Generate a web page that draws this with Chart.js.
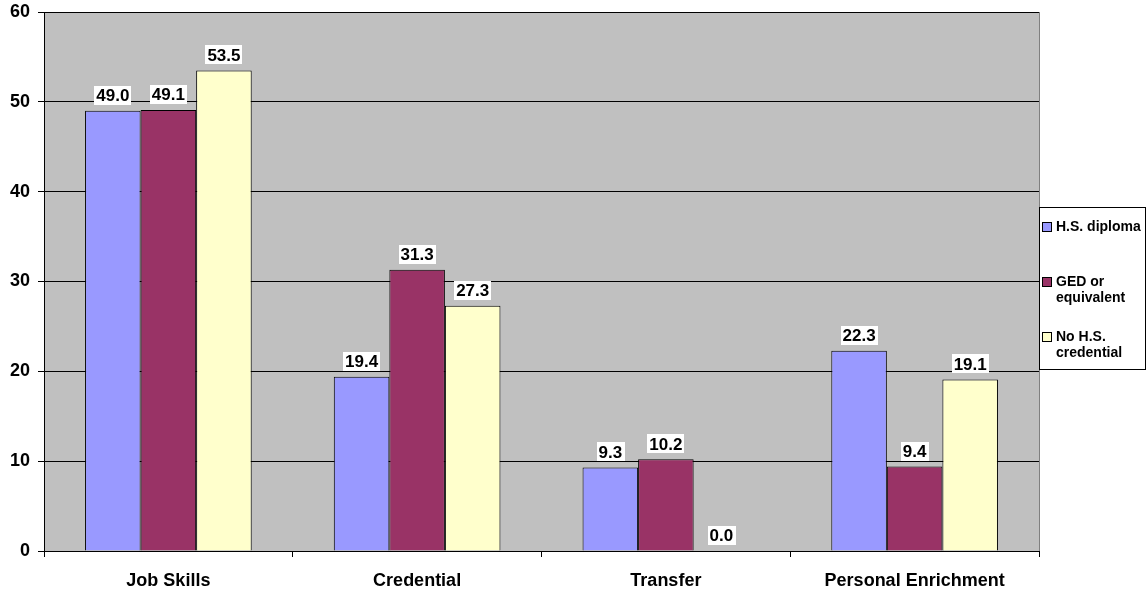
<!DOCTYPE html>
<html>
<head>
<meta charset="utf-8">
<script src="https://cdn.jsdelivr.net/npm/chart.js@4.4.1/dist/chart.umd.min.js"></script>
<style>
  html, body { margin: 0; padding: 0; background: #fff; }
  #wrap { width: 1147px; height: 591px; position: relative; }
</style>
</head>
<body>
<div id="wrap"><canvas id="reasonsChart"></canvas></div>
<script>
// categories and series
const categories = ['Job Skills', 'Credential', 'Transfer', 'Personal Enrichment'];
const hsDiploma = [49.0, 19.4, 9.3, 22.3];
const gedEquivalent = [49.1, 31.3, 10.2, 9.4];
const noCredential = [53.5, 27.3, 0.0, 19.1];
const yTicks = [0, 10, 20, 30, 40, 50, 60];

const seriesNames = [['H.S. diploma'], ['GED or', 'equivalent'], ['No H.S.', 'credential']];
const seriesColors = ['#9999FF', '#993366', '#FFFFCC'];

const FONT = 'Arial, "Liberation Sans", sans-serif';

// grey plot background + right edge
const plotBackground = {
    id: 'plotBackground',
    beforeDraw(chart) {
        const { ctx, chartArea: a } = chart;
        ctx.save();
        ctx.fillStyle = '#C0C0C0';
        ctx.fillRect(a.left, a.top, a.right - a.left, a.bottom - a.top);
        ctx.strokeStyle = '#808080';
        ctx.lineWidth = 1;
        ctx.beginPath();
        ctx.moveTo(a.right + 0.5, a.top);
        ctx.lineTo(a.right + 0.5, a.bottom + 6);
        ctx.stroke();
        ctx.restore();
    }
};

// value labels in white boxes above each bar
const valueLabels = {
    id: 'valueLabels',
    afterDatasetsDraw(chart) {
        const ctx = chart.ctx;
        ctx.save();
        ctx.font = 'bold 17px ' + FONT;
        ctx.textAlign = 'center';
        ctx.textBaseline = 'middle';
        chart.data.datasets.forEach((ds, i) => {
            chart.getDatasetMeta(i).data.forEach((bar, j) => {
                const txt = ds.data[j].toFixed(1);
                const w = ctx.measureText(txt).width + 4;
                const h = 19;
                const bottom = bar.y - 6;
                ctx.fillStyle = '#ffffff';
                ctx.fillRect(Math.round(bar.x - w / 2), Math.round(bottom - h), Math.round(w), h);
                ctx.fillStyle = '#000000';
                ctx.fillText(txt, bar.x, bottom - h / 2 + 1);
            });
        });
        ctx.restore();
    }
};

// boxed legend on the right
const sideLegend = {
    id: 'sideLegend',
    afterDraw(chart) {
        const ctx = chart.ctx;
        const left = 1039, top = 207, right = 1145, bottom = 369;
        ctx.save();
        ctx.fillStyle = '#ffffff';
        ctx.fillRect(left, top, right - left, bottom - top);
        ctx.strokeStyle = '#000000';
        ctx.lineWidth = 1;
        ctx.strokeRect(left + 0.5, top + 0.5, right - left, bottom - top);
        ctx.font = 'bold 14px ' + FONT;
        ctx.textBaseline = 'middle';
        const rows = [227, 282, 337];
        seriesNames.forEach((lines, i) => {
            const y = rows[i];
            ctx.fillStyle = seriesColors[i];
            ctx.fillRect(1042.5, y - 4.5, 9, 9);
            ctx.strokeStyle = '#000000';
            ctx.strokeRect(1042.5, y - 4.5, 9, 9);
            ctx.fillStyle = '#000000';
            lines.forEach((line, k) => {
                ctx.fillText(line, 1056, y + k * 16);
            });
        });
        ctx.restore();
    }
};

const datasets = [hsDiploma, gedEquivalent, noCredential].map((values, i) => ({
    label: seriesNames[i].join(' '),
    data: values,
    backgroundColor: seriesColors[i],
    borderColor: '#000000',
    borderWidth: 1,
    categoryPercentage: 0.67,
    barPercentage: 1.0
}));

const ctx = document.getElementById('reasonsChart').getContext('2d');
new Chart(ctx, {
    type: 'bar',
    data: { labels: categories, datasets: datasets },
    options: {
        responsive: true,
        maintainAspectRatio: false,
        animation: false,
        layout: { padding: { top: 12, right: 108, left: 0, bottom: 0 } },
        plugins: {
            legend: { display: false },
            tooltip: { enabled: false }
        },
        scales: {
            x: {
                grid: {
                    offset: true,
                    drawOnChartArea: false,
                    drawTicks: true,
                    tickLength: 6,
                    color: '#000000'
                },
                border: { color: '#000000', width: 1 },
                ticks: {
                    color: '#000000',
                    padding: 13,
                    font: { family: FONT, size: 18, weight: 'bold' }
                },
                afterFit(scale) { scale.height = 40; }
            },
            y: {
                min: 0,
                max: 60,
                afterBuildTicks(scale) { scale.ticks = yTicks.map(v => ({ value: v })); },
                grid: {
                    color: '#000000',
                    tickLength: 6,
                    drawTicks: true
                },
                border: { color: '#000000', width: 1 },
                ticks: {
                    color: '#000000',
                    padding: 8,
                    // small lineHeight keeps the top label from pushing the plot down
                    font: { family: FONT, size: 18, weight: 'bold', lineHeight: 0.4 }
                },
                afterFit(scale) { scale.width = 44; }
            }
        }
    },
    plugins: [plotBackground, valueLabels, sideLegend]
});
</script>
</body>
</html>
